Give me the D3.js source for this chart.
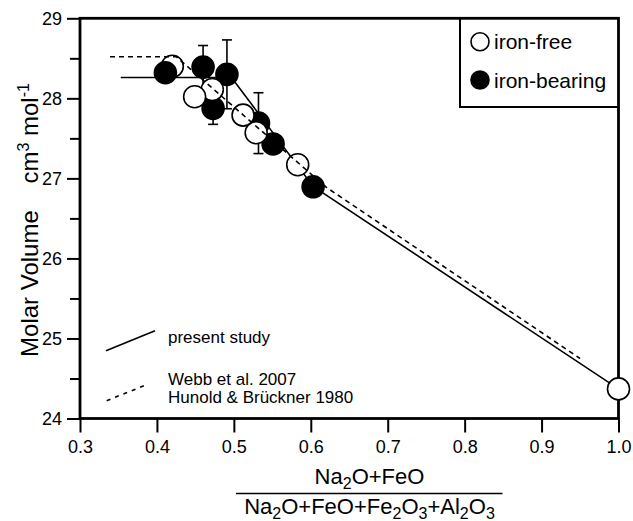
<!DOCTYPE html>
<html>
<head>
<meta charset="utf-8">
<script src="https://cdn.jsdelivr.net/npm/d3@7/dist/d3.min.js"></script>
<style>
  html, body { margin: 0; padding: 0; background: #fff; }
  svg { display: block; }
  text { font-family: "Liberation Sans", Arial, Helvetica, sans-serif; fill: #000; }
</style>
</head>
<body>
<svg id="chart" width="633" height="521"></svg>
<script>
// Molar volume against Na2O+FeO / (Na2O+FeO+Fe2O3+Al2O3)
const xTicks = [0.3, 0.4, 0.5, 0.6, 0.7, 0.8, 0.9, 1.0];
const xTickLabels = ["0.3", "0.4", "0.5", "0.6", "0.7", "0.8", "0.9", "1.0"];
const yTicks = [24, 25, 26, 27, 28, 29];
const yMinorTicks = [24.5, 25.5, 26.5, 27.5, 28.5];

// iron-free glasses (open symbols)
const ironFreeX = [0.420, 0.449, 0.472, 0.512, 0.529, 0.583, 1.0];
const ironFreeY = [28.40, 28.02, 28.11, 27.79, 27.57, 27.17, 24.37];

// iron-bearing glasses (filled symbols) with 1-sigma uncertainty
const ironBearingX = [0.411, 0.460, 0.473, 0.491, 0.532, 0.551, 0.603];
const ironBearingY = [28.32, 28.39, 27.875, 28.30, 27.69, 27.43, 26.895];
const ironBearingErr = [0, 0.27, 0.20, 0.43, 0.38, 0, 0];

// model trends
const presentX = [0.353, 0.497, 0.603, 1.0];
const presentY = [28.26, 28.26, 26.90, 24.37];
const webbX = [0.339, 0.425, 0.620, 0.950];
const webbY = [28.52, 28.52, 26.89, 24.75];

const svg = d3.select("#chart");
const pLeft = 80, pRight = 618.5, pTop = 18.3, pBottom = 418.5;
const FONT = "'Liberation Sans', Arial, sans-serif";

const x = d3.scaleLinear().domain([0.3, 1.0]).range([pLeft, pRight]);
const y = d3.scaleLinear().domain([24, 29]).range([pBottom, pTop]);

// axes
const xAxis = svg.append("g")
  .attr("transform", `translate(0,${pBottom})`)
  .call(d3.axisBottom(x).tickValues(xTicks).tickSize(14).tickPadding(8)
    .tickFormat((d, i) => xTickLabels[i]));
xAxis.select(".domain").remove();
xAxis.selectAll("line").attr("stroke", "#000").attr("stroke-width", 2);
xAxis.selectAll("text").attr("font-size", 18).style("font-family", FONT);

const yMinor = svg.append("g")
  .attr("transform", `translate(${pLeft},0)`)
  .call(d3.axisLeft(y).tickValues(yMinorTicks).tickSize(10).tickFormat(""));
yMinor.select(".domain").remove();
yMinor.selectAll("line").attr("stroke", "#000").attr("stroke-width", 2);

const yAxis = svg.append("g")
  .attr("transform", `translate(${pLeft},0)`)
  .call(d3.axisLeft(y).tickValues(yTicks).tickSize(13).tickPadding(5)
    .tickFormat(d3.format("d")));
yAxis.select(".domain").remove();
yAxis.selectAll("line").attr("stroke", "#000").attr("stroke-width", 2);
yAxis.selectAll("text").attr("font-size", 18).style("font-family", FONT);

// plot frame
svg.append("rect")
  .attr("x", pLeft).attr("y", pTop)
  .attr("width", pRight - pLeft).attr("height", pBottom - pTop)
  .attr("fill", "none").attr("stroke", "#000").attr("stroke-width", 2.8);

const line = d3.line().x(d => x(d[0])).y(d => y(d[1]));

// present study trend (behind symbols)
svg.append("path")
  .datum(presentX.map((v, i) => [v, presentY[i]]))
  .attr("d", line)
  .attr("fill", "none").attr("stroke", "#000").attr("stroke-width", 1.6);

// error bars
const errData = ironBearingX.map((v, i) => ({ x: v, y: ironBearingY[i], e: ironBearingErr[i] }))
  .filter(d => d.e > 0);
const eb = svg.append("g").attr("stroke", "#000").attr("stroke-width", 1.6);
errData.forEach(d => {
  const cx = x(d.x), y0 = y(d.y - d.e), y1 = y(d.y + d.e);
  eb.append("line").attr("x1", cx).attr("x2", cx).attr("y1", y0).attr("y2", y1);
  eb.append("line").attr("x1", cx - 5).attr("x2", cx + 5).attr("y1", y0).attr("y2", y0);
  eb.append("line").attr("x1", cx - 5).attr("x2", cx + 5).attr("y1", y1).attr("y2", y1);
});

// symbols, drawn from high to low ratio so that lower-ratio points sit on top
const pts = ironFreeX.map((v, i) => ({ x: v, y: ironFreeY[i], fill: "#fff" }))
  .concat(ironBearingX.map((v, i) => ({ x: v, y: ironBearingY[i], fill: "#000" })))
  .sort((a, b) => b.x - a.x);
svg.append("g").selectAll("circle").data(pts).join("circle")
  .attr("cx", d => x(d.x)).attr("cy", d => y(d.y)).attr("r", 11)
  .attr("fill", d => d.fill).attr("stroke", "#000").attr("stroke-width", 1.6);

// Webb et al. / Hunold & Brückner trend (dashed, on top)
svg.append("path")
  .datum(webbX.map((v, i) => [v, webbY[i]]))
  .attr("d", line)
  .attr("fill", "none").attr("stroke", "#000").attr("stroke-width", 1.6)
  .attr("stroke-dasharray", "5,4");

// symbol legend box
svg.append("path")
  .attr("d", `M460,${pTop} V107 H${pRight}`)
  .attr("fill", "none").attr("stroke", "#000").attr("stroke-width", 2);
const leg = [{ label: "iron-free", fill: "#fff", cy: 41.7 }, { label: "iron-bearing", fill: "#000", cy: 80 }];
leg.forEach(d => {
  svg.append("circle").attr("cx", 480).attr("cy", d.cy).attr("r", 9)
    .attr("fill", d.fill).attr("stroke", "#000").attr("stroke-width", 1.6);
  svg.append("text").attr("x", 494).attr("y", d.cy + 7.5).attr("font-size", 21).text(d.label);
});

// line legend
svg.append("line").attr("x1", 106).attr("y1", 350.7).attr("x2", 155).attr("y2", 330.7)
  .attr("stroke", "#000").attr("stroke-width", 1.6);
svg.append("text").attr("x", 168).attr("y", 343).attr("font-size", 17).text("present study");
svg.append("line").attr("x1", 106.7).attr("y1", 400.7).attr("x2", 148.3).attr("y2", 384)
  .attr("stroke", "#000").attr("stroke-width", 1.6).attr("stroke-dasharray", "4,5");
svg.append("text").attr("x", 168).attr("y", 385).attr("font-size", 17).text("Webb et al. 2007");
svg.append("text").attr("x", 168).attr("y", 403).attr("font-size", 17).text("Hunold & Brückner 1980");

// y axis title
const yt = svg.append("text")
  .attr("transform", "translate(38,220) rotate(-90)")
  .attr("text-anchor", "middle").attr("font-size", 24);
yt.append("tspan").text("Molar Volume\u00a0\u00a0\u00a0\u00a0cm");
yt.append("tspan").attr("font-size", 16).attr("dy", -9).text("3");
yt.append("tspan").attr("dy", 9).text(" mol");
yt.append("tspan").attr("font-size", 16).attr("dy", -9).text("-1");

// x axis title as a fraction; subscripts are shifted down, following text shifted back
function formula(parent, parts, cx, baseline) {
  const t = parent.append("text").attr("x", cx).attr("y", baseline)
    .attr("text-anchor", "middle").attr("font-size", 22);
  let shifted = false;
  parts.forEach(p => {
    const ts = t.append("tspan").text(p.s);
    if (p.sub) {
      ts.attr("font-size", 16).attr("dy", shifted ? 0 : 5);
      shifted = true;
    } else if (shifted) {
      ts.attr("dy", -5);
      shifted = false;
    }
  });
  return t;
}
formula(svg, [{ s: "Na" }, { s: "2", sub: true }, { s: "O+FeO" }], 369.5, 484);
svg.append("line").attr("x1", 236).attr("x2", 502.5).attr("y1", 493.5).attr("y2", 493.5)
  .attr("stroke", "#000").attr("stroke-width", 1.5);
formula(svg, [{ s: "Na" }, { s: "2", sub: true }, { s: "O+FeO+Fe" }, { s: "2", sub: true },
  { s: "O" }, { s: "3", sub: true }, { s: "+Al" }, { s: "2", sub: true }, { s: "O" }, { s: "3", sub: true }], 369.5, 513.5);
</script>
</body>
</html>
